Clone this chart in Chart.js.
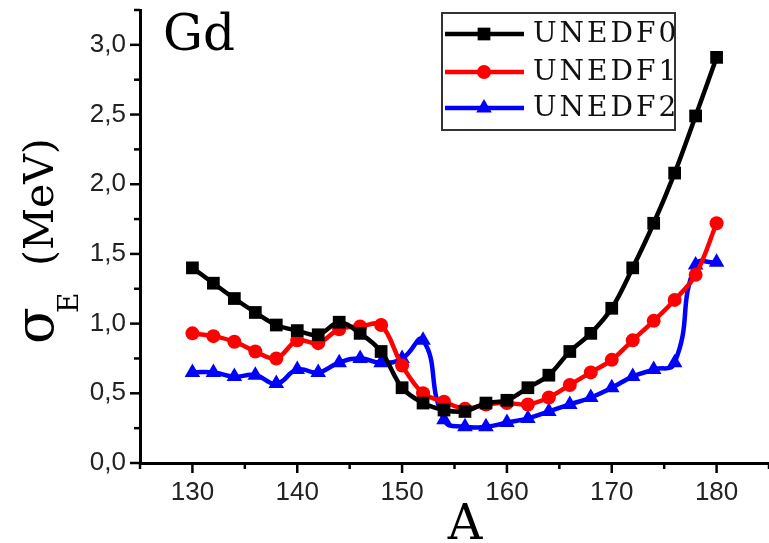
<!DOCTYPE html>
<html>
<head>
<meta charset="utf-8">
<script src="https://cdn.jsdelivr.net/npm/chart.js@4.4.1/dist/chart.umd.min.js"></script>
<style>
  html, body { margin: 0; padding: 0; background: #fff; }
  #wrap { width: 769px; height: 543px; }
</style>
</head>
<body>
<div id="wrap"><canvas id="sigmaChart" width="769" height="543"></canvas></div>
<script>
// mass numbers of the Gd chain
const massNumbers = [130, 132, 134, 136, 138, 140, 142, 144, 146, 148, 150, 152, 154,
  156, 158, 160, 162, 164, 166, 168, 170, 172, 174, 176, 178, 180];

const unedf0 = [1.40, 1.29, 1.18, 1.08, 0.99, 0.95, 0.92, 1.01, 0.93, 0.80, 0.54, 0.43, 0.38,
  0.37, 0.43, 0.45, 0.54, 0.63, 0.80, 0.93, 1.11, 1.40, 1.72, 2.08, 2.49, 2.91];
const unedf1 = [0.93, 0.91, 0.87, 0.80, 0.75, 0.88, 0.86, 0.96, 0.98, 0.99, 0.70, 0.50, 0.44,
  0.39, 0.42, 0.43, 0.42, 0.47, 0.56, 0.65, 0.74, 0.88, 1.02, 1.17, 1.35, 1.72];
const unedf2 = [0.65, 0.65, 0.62, 0.63, 0.57, 0.67, 0.65, 0.72, 0.75, 0.72, 0.75, 0.88, 0.31,
  0.26, 0.26, 0.29, 0.32, 0.37, 0.42, 0.47, 0.54, 0.62, 0.67, 0.72, 1.42, 1.44];

const xTicks = [125, 130, 135, 140, 145, 150, 155, 160, 165, 170, 175, 180, 185];
const yTicks = [0, 0.25, 0.5, 0.75, 1, 1.25, 1.5, 1.75, 2, 2.25, 2.5, 2.75, 3, 3.25];

const serif = '"DejaVu Serif", "Liberation Serif", serif';

function series(label, values, color, style, radius, tension) {
  return {
    label: label,
    data: massNumbers.map((a, i) => ({ x: a, y: values[i] })),
    borderColor: color,
    backgroundColor: color,
    borderWidth: 4.5,
    pointStyle: style,
    pointRadius: radius,
    pointBorderWidth: 0,
    tension: tension
  };
}

// ticks, titles, "Gd" tag and the boxed legend
const decorations = {
  id: 'decorations',
  afterDraw(chart) {
    const ctx = chart.ctx;
    const xs = chart.scales.x, ys = chart.scales.y;
    const area = chart.chartArea;
    ctx.save();

    ctx.strokeStyle = '#000';
    ctx.lineWidth = 2.5;
    xTicks.forEach(v => {
      const px = xs.getPixelForValue(v);
      const len = v % 10 === 0 ? 10 : 6;
      ctx.beginPath();
      ctx.moveTo(px, area.bottom);
      ctx.lineTo(px, area.bottom + len);
      ctx.stroke();
    });
    yTicks.forEach(v => {
      const py = ys.getPixelForValue(v);
      const len = Math.abs(v * 2 - Math.round(v * 2)) < 1e-6 ? 10 : 6;
      ctx.beginPath();
      ctx.moveTo(area.left, py);
      ctx.lineTo(area.left - len, py);
      ctx.stroke();
    });

    ctx.fillStyle = '#000';
    ctx.textBaseline = 'alphabetic';

    ctx.font = '50px ' + serif;
    ctx.textAlign = 'left';
    ctx.fillText('Gd', 163, 50);

    ctx.font = '48px ' + serif;
    ctx.textAlign = 'center';
    ctx.fillText('A', 465, 539);

    // rotated y title with subscript
    ctx.save();
    ctx.translate(53, 344);
    ctx.rotate(-Math.PI / 2);
    ctx.textAlign = 'left';
    ctx.font = '54px ' + serif;
    ctx.fillText('σ', 0, 0);
    ctx.font = '28px ' + serif;
    ctx.fillText('E', 31, 25);
    ctx.font = '41px ' + serif;
    ctx.fillText('(MeV)', 78, 0);
    ctx.restore();

    // legend
    const box = { left: 442, top: 13, right: 675, bottom: 130 };
    ctx.fillStyle = '#fff';
    ctx.fillRect(box.left, box.top, box.right - box.left, box.bottom - box.top);
    ctx.strokeStyle = '#333';
    ctx.lineWidth = 2;
    ctx.strokeRect(box.left, box.top, box.right - box.left, box.bottom - box.top);
    const rows = [34, 72, 108];
    ctx.font = '28px ' + serif;
    ctx.letterSpacing = '3px';
    ctx.textAlign = 'left';
    ctx.textBaseline = 'middle';
    chart.data.datasets.forEach((ds, i) => {
      const y = rows[i];
      ctx.strokeStyle = ds.borderColor;
      ctx.lineWidth = ds.borderWidth;
      ctx.beginPath();
      ctx.moveTo(445, y);
      ctx.lineTo(524, y);
      ctx.stroke();
      ctx.fillStyle = ds.backgroundColor;
      Chart.helpers.drawPoint(ctx, {
        pointStyle: ds.pointStyle, radius: ds.pointRadius, rotation: 0, borderWidth: 0
      }, 484, y);
      ctx.fillStyle = '#111';
      ctx.fillText(ds.label, 533, y + 1);
    });
    ctx.restore();
  }
};

new Chart(document.getElementById('sigmaChart').getContext('2d'), {
  type: 'line',
  data: {
    datasets: [
      series('UNEDF0', unedf0, '#000000', 'rect', 9, 0.35),
      series('UNEDF1', unedf1, '#ff0000', 'circle', 7, 0.35),
      series('UNEDF2', unedf2, '#0000ff', 'triangle', 9, 0.5)
    ]
  },
  options: {
    responsive: false,
    animation: false,
    devicePixelRatio: 1,
    layout: { autoPadding: false, padding: { top: 10, right: 0, left: 0, bottom: 0 } },
    plugins: { legend: { display: false }, tooltip: { enabled: false } },
    scales: {
      x: {
        type: 'linear',
        min: 125,
        max: 185,
        afterFit: s => { s.height = 80; s.paddingLeft = 0; s.paddingRight = 0; },
        afterBuildTicks: s => { s.ticks = xTicks.map(v => ({ value: v })); },
        grid: { display: true, drawOnChartArea: false, drawTicks: false },
        border: { display: true, color: '#000', width: 3 },
        ticks: {
          padding: 14,
          color: '#222',
          font: { family: '"Liberation Sans", Arial, sans-serif', size: 26 },
          maxRotation: 0,
          autoSkip: false,
          callback: v => (v % 10 === 0 ? String(v) : '')
        }
      },
      y: {
        min: 0,
        max: 3.25,
        afterFit: s => { s.width = 140; s.paddingTop = 0; s.paddingBottom = 0; },
        afterBuildTicks: s => { s.ticks = yTicks.map(v => ({ value: v })); },
        grid: { display: true, drawOnChartArea: false, drawTicks: false },
        border: { display: true, color: '#000', width: 3 },
        ticks: {
          padding: 14,
          color: '#222',
          font: { family: '"Liberation Sans", Arial, sans-serif', size: 26 },
          autoSkip: false,
          callback: v => {
            const twice = v * 2;
            return Math.abs(twice - Math.round(twice)) < 1e-6 ? v.toFixed(1).replace('.', ',') : '';
          }
        }
      }
    }
  },
  plugins: [decorations]
});
</script>
</body>
</html>
